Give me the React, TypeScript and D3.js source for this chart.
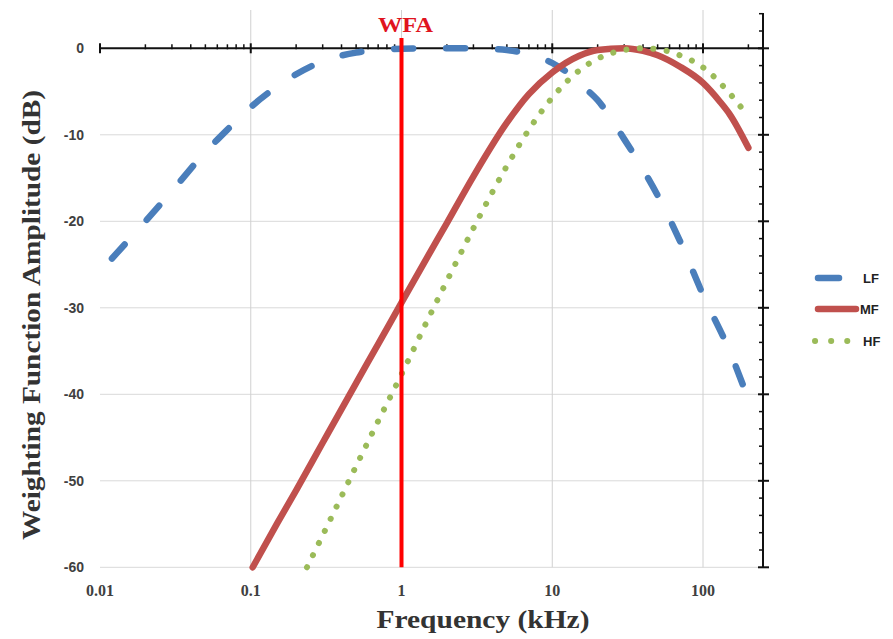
import React from "react";
import * as d3 from "d3";

const W = 893;
const H = 639;

const xTicks = [0.01, 0.1, 1, 10, 100];
const xTickLabels = ["0.01", "0.1", "1", "10", "100"];
const yTicks = [0, -10, -20, -30, -40, -50, -60];
const yTickLabels = ["0", "-10", "-20", "-30", "-40", "-50", "-60"];

const lfFreq = [0.012, 0.02, 0.03, 0.05, 0.07, 0.1, 0.15, 0.2, 0.3, 0.5, 0.7, 1, 2, 3, 5, 7, 10, 13, 15, 20, 30, 40, 50, 70, 100, 150, 200];
const lfDb = [-24.3, -20, -16.5, -12, -9.4, -6.8, -4.4, -3.0, -1.5, -0.5, -0.2, -0.05, 0, 0, -0.2, -0.7, -1.7, -3.0, -4.0, -6.0, -10.5, -14, -17, -22.2, -28.5, -35, -40.6];

const mfFreq = [0.103, 0.15, 0.2, 0.3, 0.5, 0.7, 1, 1.5, 2, 3, 5, 7, 10, 15, 20, 30, 40, 50, 70, 100, 130, 150, 200];
const mfDb = [-60, -54.9, -51.1, -45.6, -38.7, -34.2, -29.4, -24.0, -20.2, -14.8, -8.6, -5.3, -2.8, -0.9, -0.2, 0, -0.3, -0.8, -2.1, -4.0, -6.2, -7.6, -11.5];

const hfFreq = [0.236, 0.3, 0.5, 0.7, 1, 1.5, 2, 3, 5, 7, 10, 15, 20, 30, 40, 50, 70, 100, 150, 200];
const hfDb = [-60, -56.3, -48.3, -43.1, -37.7, -31.3, -26.9, -20.8, -13.6, -9.4, -5.7, -2.6, -1.2, -0.2, 0, -0.1, -0.8, -2.2, -5.2, -7.9];

const seriesNames = ["LF", "MF", "HF"];
const seriesColors = ["#4A7EBB", "#C0504D", "#9BBB59"];

export default function App() {
  const x = d3.scaleLog().domain([0.01, 250]).range([100, 763]);
  const y = d3.scaleLinear().domain([-60, 4]).range([567.3, 13.7]);

  const line = d3
    .line<[number, number]>()
    .x((d) => x(d[0]))
    .y((d) => y(d[1]))
    .curve(d3.curveMonotoneX);

  const lf = lfFreq.map((f, i) => [f, lfDb[i]] as [number, number]);
  const mf = mfFreq.map((f, i) => [f, mfDb[i]] as [number, number]);
  const hf = hfFreq.map((f, i) => [f, hfDb[i]] as [number, number]);

  const minorX: number[] = [];
  for (let dec = 0.01; dec < 200; dec *= 10) {
    for (let m = 2; m <= 9; m++) {
      const v = +(dec * m).toPrecision(3);
      if (v <= 200) minorX.push(v);
    }
  }
  const yMinor: number[] = d3.range(-60, 5, 2);

  const serif = "'Liberation Serif', 'DejaVu Serif', serif";
  const sans = "'Liberation Sans', Arial, sans-serif";

  return (
    <svg width={W} height={H} style={{ position: "absolute", left: 0, top: 0, background: "#fff" }}>
      <rect x={0} y={0} width={W} height={H} fill="#fff" />
      {/* gridlines */}
      {yTicks.filter((t) => t !== 0).map((t) => (
        <line key={"gy" + t} x1={100} x2={763} y1={y(t)} y2={y(t)} stroke="#d9d9d9" strokeWidth={1} />
      ))}
      {xTicks.filter((t) => t !== 0.01).map((t) => (
        <line key={"gx" + t} x1={x(t)} x2={x(t)} y1={10} y2={y(-60)} stroke="#d0d0d0" strokeWidth={1} />
      ))}
      {/* x axis at 0 dB */}
      <line x1={100} x2={763} y1={y(0)} y2={y(0)} stroke="#111" strokeWidth={2} />
      {xTicks.map((t) => (
        <line key={"mx" + t} x1={x(t)} x2={x(t)} y1={y(0) - 5} y2={y(0) + 5} stroke="#111" strokeWidth={2} />
      ))}
      {minorX.map((t) => (
        <line key={"nx" + t} x1={x(t)} x2={x(t)} y1={y(0) - 4} y2={y(0) + 1} stroke="#111" strokeWidth={1.5} />
      ))}
      {/* right axis */}
      <line x1={763} x2={763} y1={y(4)} y2={y(-60)} stroke="#111" strokeWidth={2} />
      {yMinor.map((t) => (
        <line key={"ry" + t} x1={t % 10 === 0 ? 758 : 759} x2={t % 10 === 0 ? 769 : 764} y1={y(t)} y2={y(t)} stroke="#111" strokeWidth={t % 10 === 0 ? 2 : 1.5} />
      ))}
      {/* tick labels */}
      {yTicks.map((t, i) => (
        <text key={"yl" + t} x={84} y={y(t) + 5} textAnchor="end" fontFamily={sans} fontWeight="bold" fontSize={14} fill="#404040">
          {yTickLabels[i]}
        </text>
      ))}
      {xTicks.map((t, i) => (
        <text key={"xl" + t} x={x(t)} y={596} textAnchor="middle" fontFamily={serif} fontWeight="bold" fontSize={16} fill="#404040">
          {xTickLabels[i]}
        </text>
      ))}
      {/* series */}
      <path d={line(lf) || ""} fill="none" stroke={seriesColors[0]} strokeWidth={6.5} strokeLinecap="round" strokeDasharray="19 33" />
      <path d={line(mf) || ""} fill="none" stroke={seriesColors[1]} strokeWidth={6.5} strokeLinecap="round" />
      <path d={line(hf) || ""} fill="none" stroke={seriesColors[2]} strokeWidth={6} strokeLinecap="round" strokeDasharray="0.1 13.4" />
      {/* WFA line */}
      <line x1={x(1)} x2={x(1)} y1={38} y2={y(-60)} stroke="#FF0000" strokeWidth={4} />
      <text x={x(1) + 4} y={32} textAnchor="middle" fontFamily={serif} fontWeight="bold" fontSize={21} fill="#E0141E" textLength={55} lengthAdjust="spacingAndGlyphs">
        WFA
      </text>
      {/* axis titles */}
      <text x={483} y={628} textAnchor="middle" fontFamily={serif} fontWeight="bold" fontSize={25} fill="#333" textLength={213} lengthAdjust="spacingAndGlyphs">
        Frequency (kHz)
      </text>
      <text transform="translate(40,315) rotate(-90)" textAnchor="middle" fontFamily={serif} fontWeight="bold" fontSize={26} fill="#333" textLength={450} lengthAdjust="spacingAndGlyphs">
        Weighting Function Amplitude (dB)
      </text>
      {/* legend */}
      <g>
        <line x1={818} x2={839} y1={278} y2={278} stroke={seriesColors[0]} strokeWidth={6.5} strokeLinecap="round" />
        <line x1={818} x2={856} y1={309} y2={309} stroke={seriesColors[1]} strokeWidth={6.5} strokeLinecap="round" />
        <line x1={815} x2={848} y1={341} y2={341} stroke={seriesColors[2]} strokeWidth={6} strokeLinecap="round" strokeDasharray="0.1 16" />
        {seriesNames.map((n, i) => (
          <text key={n} x={i === 1 ? 860 : 863} y={[278, 309, 341][i] + 5} fontFamily={sans} fontWeight="bold" fontSize={13} fill="#222">
            {n}
          </text>
        ))}
      </g>
    </svg>
  );
}
